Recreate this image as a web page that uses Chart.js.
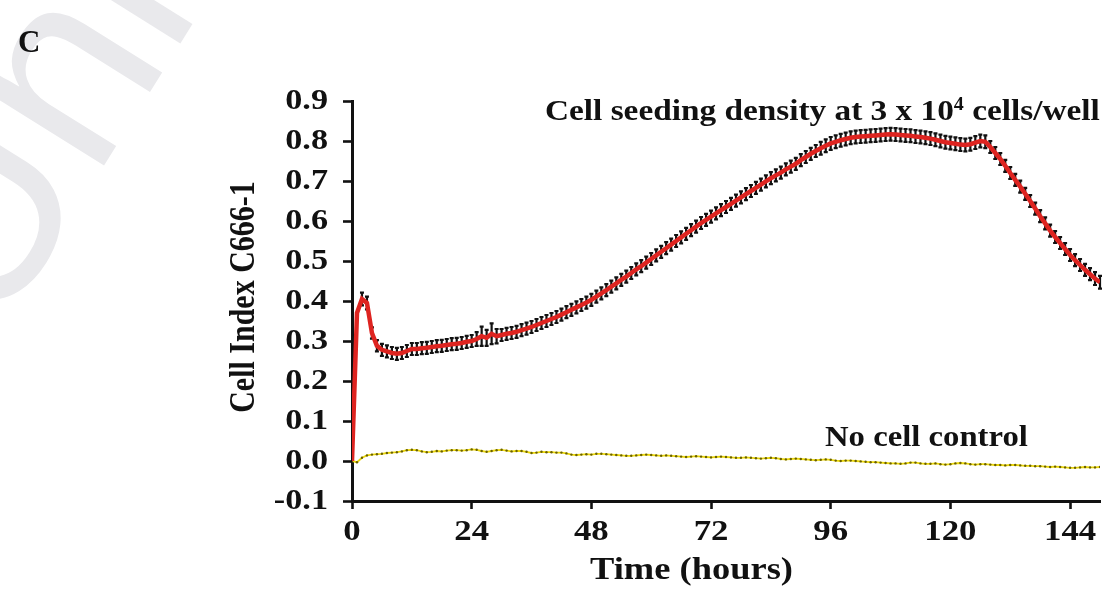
<!DOCTYPE html>
<html>
<head>
<meta charset="utf-8">
<script src="https://cdn.jsdelivr.net/npm/chart.js@4.4.0/dist/chart.umd.min.js"></script>
<style>
  html, body { margin: 0; padding: 0; background: #fff; }
  #wrap { position: relative; width: 1114px; height: 597px; overflow: hidden; }
  #wrap canvas { position: absolute; left: 0; top: 0; }
  .lbl {
    position: absolute;
    font-family: 'Liberation Serif', 'Times New Roman', serif;
    font-weight: bold;
    color: #111;
    white-space: nowrap;
    line-height: 1;
    transform-origin: 0 0;
  }
  .lbl sup { font-size: 0.6em; vertical-align: 0.55em; line-height: 0; }
  #mark {
    position: absolute;
    left: -5px;
    top: 120px;
    font-family: 'Liberation Sans', Arial, sans-serif;
    font-size: 260px;
    line-height: 1;
    color: #e9e9ec;
    transform-origin: 0 220px;
    transform: rotate(-58deg);
    white-space: nowrap;
  }
</style>
</head>
<body>
<div id="wrap">
  <div id="mark">Uni</div>
  <canvas id="chart" width="1114" height="597"></canvas>
  <div class="lbl" style="left:18px; top:26px; font-size:31px;">C</div>
  <div class="lbl" style="left:545px; top:95px; font-size:30px; transform:scaleX(1.11);">Cell seeding density at 3 x 10<sup>4</sup> cells/well</div>
  <div class="lbl" style="left:825px; top:421px; font-size:30px; transform:scaleX(1.09);">No cell control</div>
  <div class="lbl" style="left:590px; top:552px; font-size:32px; transform:scaleX(1.14);">Time (hours)</div>
</div>
<script>
// sampling times (hours)
const hours = Array.from({ length: 151 }, (_, i) => i);

// cell index, 3 x 10^4 cells/well
const cellIndex = [
  0.000, 0.370, 0.405, 0.395, 0.320, 0.288, 0.278, 0.274, 0.270, 0.268, 0.270, 0.275,
  0.280, 0.280, 0.282, 0.283, 0.285, 0.287, 0.288, 0.290, 0.292, 0.293, 0.295, 0.298,
  0.300, 0.305, 0.312, 0.308, 0.318, 0.312, 0.315, 0.318, 0.320, 0.323, 0.327, 0.331,
  0.335, 0.340, 0.345, 0.350, 0.355, 0.360, 0.366, 0.372, 0.378, 0.384, 0.390, 0.396,
  0.403, 0.411, 0.419, 0.427, 0.436, 0.444, 0.453, 0.461, 0.470, 0.479, 0.487, 0.496,
  0.505, 0.514, 0.523, 0.532, 0.541, 0.550, 0.559, 0.568, 0.577, 0.586, 0.595, 0.603,
  0.611, 0.619, 0.627, 0.635, 0.643, 0.651, 0.659, 0.667, 0.675, 0.683, 0.691, 0.699,
  0.707, 0.714, 0.721, 0.729, 0.736, 0.743, 0.752, 0.760, 0.768, 0.775, 0.782, 0.788,
  0.794, 0.798, 0.802, 0.805, 0.808, 0.810, 0.811, 0.812, 0.813, 0.814, 0.815, 0.816,
  0.817, 0.816, 0.815, 0.814, 0.813, 0.811, 0.810, 0.808, 0.806, 0.803, 0.800, 0.797,
  0.795, 0.793, 0.791, 0.790, 0.792, 0.796, 0.800, 0.798, 0.785, 0.770, 0.755, 0.738,
  0.720, 0.703, 0.686, 0.668, 0.650, 0.631, 0.612, 0.594, 0.576, 0.560, 0.545, 0.530,
  0.515, 0.502, 0.490, 0.478, 0.467, 0.456, 0.447
];

// error bar half-heights
const cellIndexErr = [
  0.000, 0.000, 0.016, 0.016, 0.014, 0.014, 0.015, 0.015, 0.015, 0.015, 0.015, 0.015,
  0.015, 0.015, 0.015, 0.015, 0.015, 0.015, 0.015, 0.015, 0.015, 0.015, 0.015, 0.015,
  0.015, 0.017, 0.024, 0.020, 0.026, 0.018, 0.015, 0.015, 0.015, 0.015, 0.015, 0.015,
  0.015, 0.015, 0.015, 0.015, 0.015, 0.015, 0.015, 0.015, 0.015, 0.015, 0.015, 0.015,
  0.015, 0.015, 0.015, 0.015, 0.015, 0.015, 0.015, 0.015, 0.015, 0.015, 0.015, 0.015,
  0.015, 0.015, 0.015, 0.015, 0.015, 0.015, 0.015, 0.015, 0.015, 0.015, 0.015, 0.015,
  0.015, 0.015, 0.015, 0.015, 0.015, 0.015, 0.015, 0.015, 0.015, 0.015, 0.015, 0.015,
  0.015, 0.015, 0.015, 0.015, 0.015, 0.015, 0.015, 0.015, 0.015, 0.015, 0.016, 0.016,
  0.016, 0.016, 0.016, 0.016, 0.016, 0.016, 0.016, 0.016, 0.016, 0.016, 0.016, 0.016,
  0.016, 0.016, 0.016, 0.016, 0.016, 0.016, 0.016, 0.016, 0.016, 0.016, 0.016, 0.016,
  0.016, 0.016, 0.016, 0.016, 0.016, 0.016, 0.016, 0.016, 0.015, 0.015, 0.015, 0.015,
  0.015, 0.015, 0.015, 0.015, 0.015, 0.015, 0.015, 0.015, 0.015, 0.015, 0.015, 0.015,
  0.015, 0.015, 0.015, 0.015, 0.015, 0.016, 0.016
];

// no cell control
const noCellControl = [
  0.000, -0.003, 0.008, 0.014, 0.016, 0.017, 0.018, 0.020, 0.021, 0.022, 0.024, 0.027,
  0.028, 0.027, 0.024, 0.022, 0.023, 0.025, 0.024, 0.026, 0.027, 0.027, 0.026, 0.027,
  0.029, 0.028, 0.025, 0.023, 0.025, 0.027, 0.028, 0.026, 0.024, 0.025, 0.025, 0.023,
  0.020, 0.021, 0.023, 0.022, 0.022, 0.021, 0.021, 0.019, 0.016, 0.015, 0.016, 0.017,
  0.016, 0.018, 0.018, 0.017, 0.016, 0.015, 0.014, 0.013, 0.013, 0.014, 0.015, 0.016,
  0.015, 0.014, 0.013, 0.014, 0.013, 0.012, 0.011, 0.010, 0.011, 0.012, 0.011, 0.010,
  0.009, 0.010, 0.011, 0.010, 0.009, 0.008, 0.008, 0.009, 0.008, 0.007, 0.006, 0.007,
  0.008, 0.007, 0.005, 0.004, 0.005, 0.006, 0.005, 0.004, 0.003, 0.002, 0.003, 0.004,
  0.003, 0.001, 0.000, 0.001, 0.001, 0.000, -0.001, -0.002, -0.003, -0.003, -0.004, -0.005,
  -0.006, -0.006, -0.007, -0.006, -0.004, -0.004, -0.006, -0.007, -0.007, -0.006, -0.008, -0.009,
  -0.008, -0.006, -0.005, -0.006, -0.008, -0.009, -0.008, -0.008, -0.009, -0.010, -0.010, -0.011,
  -0.010, -0.010, -0.011, -0.012, -0.012, -0.013, -0.013, -0.014, -0.015, -0.014, -0.015, -0.016,
  -0.017, -0.017, -0.016, -0.015, -0.016, -0.016, -0.015
];

const xTicks = [0, 24, 48, 72, 96, 120, 144];
const yTicks = [-0.1, 0.0, 0.1, 0.2, 0.3, 0.4, 0.5, 0.6, 0.7, 0.8, 0.9];
const yTitle = 'Cell Index C666-1';

const ink = '#111';
const serif = "'Liberation Serif', 'Times New Roman', serif";

// black SD bars behind the red trace
const errorBars = {
  id: 'errorBars',
  beforeDatasetsDraw(chart) {
    const { ctx, scales: { x, y } } = chart;
    ctx.save();
    ctx.strokeStyle = ink;
    ctx.lineWidth = 2.2;
    hours.forEach((h, i) => {
      if (!cellIndexErr[i]) return;
      const px = x.getPixelForValue(h);
      const top = y.getPixelForValue(cellIndex[i] + cellIndexErr[i]);
      const bot = y.getPixelForValue(cellIndex[i] - cellIndexErr[i]);
      ctx.beginPath();
      ctx.moveTo(px, top); ctx.lineTo(px, bot);
      ctx.moveTo(px - 2, top); ctx.lineTo(px + 2, top);
      ctx.moveTo(px - 2, bot); ctx.lineTo(px + 2, bot);
      ctx.stroke();
    });
    ctx.restore();
  }
};

// the figure's lettering is a little wider than plain Times, so labels are drawn stretched
const wideLabels = {
  id: 'wideLabels',
  afterDraw(chart) {
    const { ctx, scales: { x, y } } = chart;
    ctx.save();
    ctx.fillStyle = ink;
    ctx.font = `bold 29px ${serif}`;
    ctx.textBaseline = 'middle';

    ctx.textAlign = 'right';
    const yLabelRight = y.right - 9 - 15;
    yTicks.forEach(v => {
      ctx.save();
      ctx.translate(yLabelRight, y.getPixelForValue(v) + 1);
      ctx.scale(1.18, 1);
      ctx.fillText(v.toFixed(1), 0, 0);
      ctx.restore();
    });

    ctx.textAlign = 'center';
    const xLabelMid = x.top + 8 + 24;
    xTicks.forEach(v => {
      ctx.save();
      ctx.translate(x.getPixelForValue(v), xLabelMid);
      ctx.scale(1.2, 1);
      ctx.fillText(String(v), 0, 0);
      ctx.restore();
    });

    ctx.font = `bold 30px ${serif}`;
    ctx.save();
    ctx.translate(y.left + 18, (y.top + y.bottom) / 2 - 4);
    ctx.scale(1.2, 1);
    ctx.rotate(-Math.PI / 2);
    ctx.fillText(yTitle, 0, 0);
    ctx.restore();
    ctx.restore();
  }
};

new Chart(document.getElementById('chart'), {
  type: 'line',
  data: {
    datasets: [
      {
        label: 'Cell seeding density at 3 x 10^4 cells/well',
        data: hours.map((h, i) => ({ x: h, y: cellIndex[i] })),
        borderColor: '#de2420',
        borderWidth: 4.5,
        pointRadius: 0,
        tension: 0
      },
      {
        label: 'No cell control',
        data: hours.map((h, i) => ({ x: h, y: noCellControl[i] })),
        borderColor: '#ecd80a',
        borderWidth: 1.8,
        pointRadius: 1.2,
        pointBackgroundColor: '#6a6000',
        pointBorderWidth: 0,
        tension: 0
      }
    ]
  },
  options: {
    responsive: false,
    animation: false,
    devicePixelRatio: 1,
    layout: { padding: { left: 227, right: 14, top: 101, bottom: 0 } },
    plugins: { legend: { display: false }, tooltip: { enabled: false } },
    scales: {
      x: {
        type: 'linear',
        min: 0,
        max: 150,
        afterBuildTicks: s => { s.ticks = xTicks.map(v => ({ value: v })); },
        afterFit: s => { s.height = 96; },
        grid: { drawOnChartArea: false, drawTicks: true, tickLength: 8, tickWidth: 2.6, tickColor: ink },
        border: { color: ink, width: 3 },
        ticks: { display: false }
      },
      y: {
        min: -0.1,
        max: 0.9,
        afterBuildTicks: s => { s.ticks = yTicks.map(v => ({ value: v })); },
        afterFit: s => { s.width = 125; },
        grid: { drawOnChartArea: false, drawTicks: true, tickLength: 9, tickWidth: 2.6, tickColor: ink },
        border: { color: ink, width: 3 },
        ticks: { display: false }
      }
    }
  },
  plugins: [errorBars, wideLabels]
});
</script>
</body>
</html>
